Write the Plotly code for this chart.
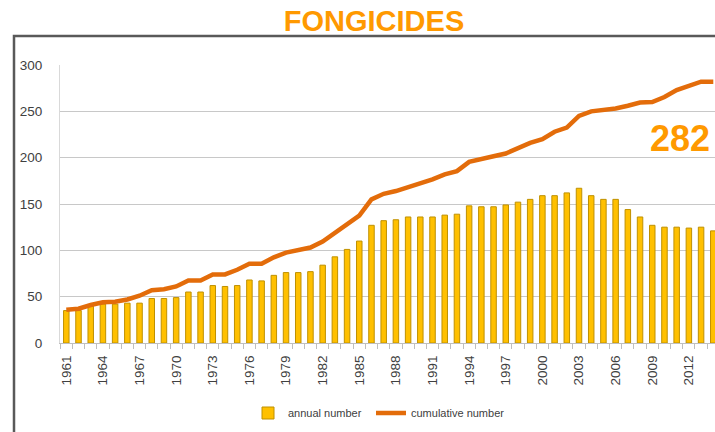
import plotly.graph_objects as go

years = list(range(1961, 2015))
annual = [35, 35, 40, 42, 42, 43, 43, 48, 48, 49,
          55, 55, 62, 61, 62, 68, 67, 73, 76, 76,
          77, 84, 93, 101, 110, 127, 132, 133, 136, 136,
          136, 138, 139, 148, 147, 147, 149, 152, 155, 159,
          159, 162, 167, 159, 155, 155, 144, 136, 127, 125,
          125, 124, 125, 121]
cumulative = [36, 37, 41, 44, 44.5, 47, 51, 57, 58, 61,
              67.5, 67.5, 74, 74, 79, 85.5, 85.5, 92.5, 97.5, 100.5,
              103, 109.5, 119, 127.5, 137.5, 155, 161, 164, 168, 172,
              176.5, 182, 185.5, 195.5, 199, 201.5, 204.5, 210, 216, 220,
              228, 232.5, 245, 250, 251.5, 253, 256, 259.5, 260, 265.5,
              273, 278, 282, 282]
y_ticks = [0, 50, 100, 150, 200, 250, 300]
title_text = "FONGICIDES"
total_label = "282"

fig = go.Figure()
fig.add_trace(go.Bar(
    x=years, y=annual, name="annual number", width=0.45,
    marker=dict(color="#FFC000", line=dict(color="#BF9000", width=1)),
    legend="legend",
))
fig.add_trace(go.Scatter(
    x=years, y=cumulative, name="cumulative number", mode="lines",
    line=dict(color="#E36C0A", width=4.5),
    legend="legend2",
))

W, H = 715, 432
ml, mr, mt, mb = 60, 0, 65, 89
pw, ph = W - ml - mr, H - mt - mb

def px_x(p):
    return (p - ml) / pw

def px_y(p):
    return (H - mb - p) / ph

legend_common = dict(orientation="h", xanchor="left", yanchor="middle", y=px_y(413),
                     font=dict(size=11, color="#404040"), itemwidth=30,
                     bgcolor="rgba(0,0,0,0)")

fig.update_layout(
    width=W, height=H,
    margin=dict(l=ml, r=mr, t=mt, b=mb, pad=0),
    paper_bgcolor="white", plot_bgcolor="white",
    font=dict(family="Liberation Sans, Arial, sans-serif", color="#404040", size=13),
    title=dict(text=f"<b>{title_text}</b>", x=374 / W, xanchor="center", xref="container",
               y=1 - 21 / H, yanchor="middle", yref="container",
               font=dict(size=29, color="#FF9900", family="Liberation Sans, Arial, sans-serif")),
    showlegend=True,
    legend=dict(x=px_x(248), **legend_common),
    legend2=dict(x=px_x(371), **legend_common),
    bargap=0.5,
    xaxis=dict(
        range=[1960.484, 2014.14], tickmode="linear", tick0=1961, dtick=3,
        tickangle=-90, ticks="outside", ticklen=6, tickcolor="rgba(0,0,0,0)",
        tickfont=dict(size=13.5, color="#404040"),
        showgrid=False, zeroline=False,
        showline=True, linecolor="#BFBFBF", linewidth=1,
        minor=dict(ticks="outside", tick0=1960.5, dtick=1, ticklen=5,
                   tickcolor="#BFBFBF", tickwidth=1, showgrid=False),
    ),
    yaxis=dict(
        range=[0, 300], tickvals=y_ticks,
        showgrid=True, gridcolor="#C8C8C8", gridwidth=1,
        zeroline=False, showline=True, linecolor="#D9D9D9", linewidth=1,
        ticks="outside", ticklen=14, tickcolor="rgba(0,0,0,0)",
        tickfont=dict(size=13.5, color="#404040"),
    ),
    shapes=[dict(type="rect", xref="paper", yref="paper",
                 x0=px_x(14), x1=px_x(900), y0=px_y(700), y1=px_y(36),
                 line=dict(color="#595959", width=2.5), fillcolor="rgba(0,0,0,0)",
                 layer="below")],
    annotations=[dict(text=f"<b>{total_label}</b>", xref="paper", yref="paper",
                      x=px_x(680), y=px_y(138), xanchor="center", yanchor="middle",
                      showarrow=False,
                      font=dict(size=36, color="#FF9900", family="Liberation Sans, Arial, sans-serif"))],
)

fig.write_html(
    "out.html",
    config={"displayModeBar": False},
    post_script=("document.body.style.margin='0px';"
                 "document.body.style.overflow='hidden';"
                 "document.documentElement.style.overflow='hidden';"),
)
